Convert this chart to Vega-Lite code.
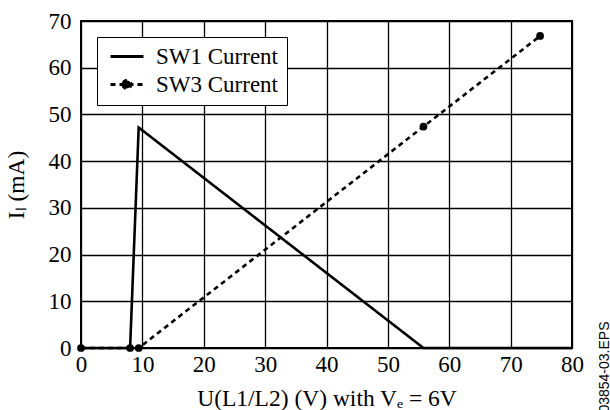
{
  "$schema": "https://vega.github.io/schema/vega-lite/v6.json",
  "width": 491,
  "height": 327,
  "autosize": "none",
  "padding": {"left": 81, "top": 21, "right": 38, "bottom": 62},
  "background": "white",
  "title": {"text": "03854-03.EPS", "orient": "right", "anchor": "end", "angle": -90, "dx": 88, "font": "Liberation Sans", "fontSize": 14, "fontWeight": "normal", "color": "black", "offset": 0},
  "config": {
    "font": "Liberation Serif",
    "view": {"stroke": "black", "strokeWidth": 2},
    "axis": {"labelFont": "Liberation Serif", "titleFont": "Liberation Serif", "labelFontSize": 23, "titleFontSize": 23.5, "titleFontWeight": "normal", "labelColor": "black", "titleColor": "black", "domain": false, "ticks": false, "gridColor": "black", "gridWidth": 1.3, "gridOpacity": 1}
  },
  "data": {"values": [
    {"series": "SW1 Current", "u": 0, "i": 0},
    {"series": "SW1 Current", "u": 8, "i": 0},
    {"series": "SW1 Current", "u": 9.4, "i": 47.2},
    {"series": "SW1 Current", "u": 55.8, "i": 0},
    {"series": "SW1 Current", "u": 80, "i": 0},
    {"series": "SW3 Current", "u": 0, "i": 0},
    {"series": "SW3 Current", "u": 8, "i": 0},
    {"series": "SW3 Current", "u": 9.4, "i": 0},
    {"series": "SW3 Current", "u": 55.8, "i": 47.4},
    {"series": "SW3 Current", "u": 74.8, "i": 66.8}
  ]},
  "layer": [
    {
      "mark": {"type": "line", "color": "black", "strokeWidth": 2.6, "clip": false},
      "encoding": {
        "x": {"field": "u", "type": "quantitative", "scale": {"domain": [0, 80], "nice": false},
          "axis": {"values": [0,5,10,15,20,25,30,35,40,45,50,55,60,65,70,75,80], "labelExpr": "datum.value % 10 === 0 ? datum.label : ''", "title": "U(L1/L2) (V) with Vₑ = 6V", "labelPadding": 5, "titlePadding": 10, "labelFlush": false}},
        "y": {"field": "i", "type": "quantitative", "scale": {"domain": [0, 70], "nice": false},
          "axis": {"values": [0,10,20,30,40,50,60,70], "title": "Iₗ (mA)", "labelPadding": 10, "titlePadding": 20}},
        "strokeDash": {"field": "series", "type": "nominal",
          "scale": {"domain": ["SW1 Current", "SW3 Current"], "range": [[1, 0], [5, 4]]},
          "legend": {"title": null, "orient": "none", "legendX": 16, "legendY": 16, "padding": 8, "strokeColor": "black", "fillColor": "white", "symbolType": "M-1,0H4.5", "symbolSize": 144, "symbolStrokeWidth": 3, "symbolStrokeColor": "black", "symbolFillColor": "black", "labelFont": "Liberation Serif", "labelFontSize": 23, "labelColor": "black", "rowPadding": 4, "labelOffset": 28, "labelLimit": 300, "labelExpr": "datum.label + '  '",
            "encode": {"symbols": {"update": {"shape": {"signal": "datum.value === 'SW3 Current' ? 'M-1,0H4.5M1.1,0A0.65,0.65 0 1,0 2.4,0A0.65,0.65 0 1,0 1.1,0' : 'M-1,0H4.5'"}, "fill": {"value": "black"}, "stroke": {"value": "black"}, "strokeWidth": {"value": 3}, "size": {"value": 144}, "opacity": {"value": 1}}}}}
        }
      }
    },
    {
      "transform": [{"filter": "datum.series === 'SW3 Current'"}],
      "mark": {"type": "point", "filled": true, "color": "black", "size": 60, "opacity": 1, "clip": false},
      "encoding": {
        "x": {"field": "u", "type": "quantitative"},
        "y": {"field": "i", "type": "quantitative"}
      }
    }
  ]
}
